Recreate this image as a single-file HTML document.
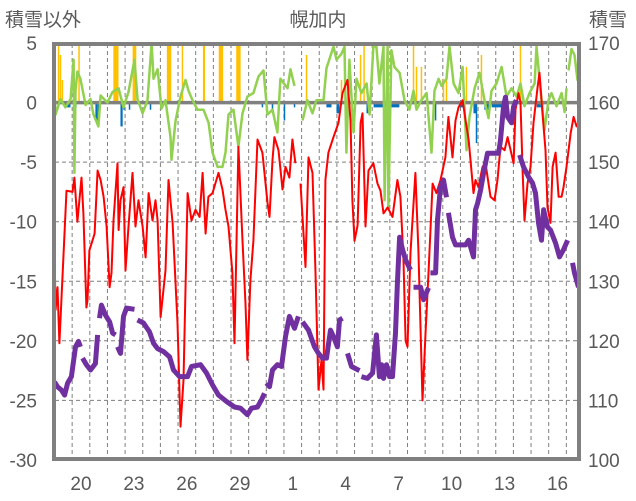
<!DOCTYPE html>
<html><head><meta charset="utf-8"><style>
body{margin:0;background:#fff;}
svg{display:block;font-family:"Liberation Sans","Noto Sans CJK JP",sans-serif;}
</style></head><body>
<svg id="chart" width="636" height="501" viewBox="0 0 636 501">
<defs><clipPath id="plotclip"><rect x="55" y="44" width="524" height="415"/></clipPath></defs>
</svg>
<script>
// ---- data (day offset from the 19th 00:00) ----
const dayLabels = ["20","23","26","29","1","4","7","10","13","16"];
const dayLabelIdx = [1,4,7,10,13,16,19,22,25,28];
const leftTicks = [5,0,-5,-10,-15,-20,-25,-30];
const rightTicks = [170,160,150,140,130,120,110,100];

const redDay = [0,0.06,0.17,0.28,0.68,1.02,1.13,1.30,1.53,1.64,1.81,1.87,1.98,2.15,2.27,2.44,2.61,2.78,2.95,3.12,3.23,3.34,3.57,3.63,3.74,3.91,4.02,4.19,4.42,4.59,4.76,4.99,5.16,5.33,5.55,5.72,5.84,6.01,6.29,6.46,6.69,6.97,7.14,7.31,7.54,7.76,7.99,8.22,8.39,8.56,8.72,8.95,9.29,9.52,9.69,9.86,10.08,10.20,10.42,10.65,10.82,10.93,11.10,11.27,11.50,11.78,12.07,12.18,12.35,12.46,12.69,12.92,13.09,13.31,13.48,13.65,13.80,13.94,14.22,14.39,14.62,14.79,14.96,15.13,15.24,15.35,15.52,15.81,16.09,16.32,16.60,16.77,16.88,17.00,17.17,17.34,17.45,17.62,17.79,18.07,18.30,18.47,18.64,18.87,19.15,19.43,19.60,19.77,19.89,20.00,20.17,20.45,20.62,20.85,21.02,21.19,21.42,21.64,21.87,22.15,22.32,22.55,22.72,22.89,23.12,23.29,23.46,23.74,23.85,24.02,24.25,24.42,24.70,24.93,25.10,25.27,25.50,25.67,25.84,26.01,26.12,26.29,26.40,26.52,26.63,26.80,26.97,27.14,27.37,27.48,27.65,27.82,27.93,28.10,28.22,28.39,28.56,28.73,28.84,29.01,29.24,29.41,29.58,29.69];
const redVal = [-12.6,-17.4,-15.5,-20.2,-7.4,-7.5,-6.3,-10.0,-6.3,-9.3,-17.2,-16.6,-12.4,-11.6,-11.0,-5.7,-6.5,-7.9,-10.4,-15.5,-14.3,-9.9,-5.1,-10.7,-8.2,-7.1,-14.1,-10.4,-5.9,-10.4,-8.2,-10.4,-13.0,-7.6,-9.9,-8.2,-9.9,-18.0,-14.1,-6.5,-10.1,-18.5,-27.2,-23.3,-7.6,-9.9,-9.0,-9.6,-5.9,-11.0,-7.9,-7.6,-5.9,-7.3,-9.0,-10.4,-14.3,-20.2,-3.7,-11.6,-16.9,-21.6,-14.9,-11.6,-3.1,-4.2,-8.4,-9.6,-4.8,-2.9,-4.0,-7.3,-5.4,-6.3,-3.1,-5.1,null,-6.8,-13.8,-4.6,-5.9,-14.3,-24.1,-21.6,-24.1,-6.5,-4.2,-2.9,-1.7,0.8,1.9,-1.5,-8.2,-11.6,-10.3,-1.7,-0.9,-10.4,-5.7,-5.1,-6.8,-7.4,-9.3,-8.8,-9.6,-6.5,-7.9,-13.0,-20.0,-20.5,-12.6,-5.9,-12.4,-25.0,-19.4,-14.3,-6.8,-7.6,-6.5,-4.6,-1.2,-4.6,-1.5,-0.4,0.2,-1.5,-3.1,-7.6,-6.5,-7.1,-5.4,-5.1,-7.9,-8.2,-6.5,-3.7,-4.0,-2.9,-4.0,-5.1,-0.6,0.8,0.0,-5.7,-9.9,-6.8,-5.4,-1.7,1.3,2.5,-0.9,-4.0,-8.8,-10.1,-5.4,-4.2,-7.9,-7.9,-7.1,-5.4,-2.6,-1.2,-2.0,-1.7];

const snowDay = [0.0,0.17,0.40,0.57,0.74,0.96,1.19,1.36,1.47,1.53,1.59,1.81,2.04,2.32,2.44,2.50,2.55,2.66,2.89,3.12,3.29,3.46,3.52,3.57,3.74,3.91,4.08,4.53,4.62,4.70,5.04,5.38,5.61,5.84,6.18,6.52,6.74,7.08,7.54,7.76,8.27,8.61,8.95,9.29,9.75,10.20,10.54,10.93,11.16,11.50,11.73,11.90,11.95,12.01,12.18,12.35,12.63,12.86,13.09,13.31,13.60,13.82,13.93,14.05,14.39,14.73,14.96,15.18,15.41,15.64,15.81,16.03,16.15,16.32,16.46,16.60,16.83,17.28,17.33,17.39,17.73,18.02,18.24,18.41,18.53,18.64,18.81,18.98,19.15,19.32,19.43,19.55,19.72,19.89,20.17,20.25,20.34,20.74,20.91,21.19,21.25,21.30,21.59,21.70,21.87,22.04,22.21,22.27,22.32,22.55,22.72,23.29,23.46,23.74,23.85,23.97,24.14,24.31,24.53,25.16,25.27,25.44,25.55,25.67,25.89,26.01,26.18,26.27,26.35,26.57,26.86,27.08,27.25,27.42,27.59,27.71,27.93,28.10,28.39,28.61,28.84,29.07,29.20,29.35,29.46,29.69];
const snowVal = [113.1,112.3,111.7,110.9,112.9,114.0,119.0,119.9,119.0,null,117.1,116.0,115.1,116.2,121.0,null,123.8,126.0,124.3,123.2,121.3,121.0,null,119.0,117.9,124.1,125.5,125.3,null,123.5,123.0,121.5,119.6,118.7,118.2,117.3,115.1,114.0,114.0,115.7,116.0,114.6,112.6,110.9,109.8,108.9,108.7,107.6,108.7,108.9,110.1,111.2,null,112.9,112.3,115.1,116.0,115.7,120.7,124.1,122.1,124.1,null,123.2,121.8,119.0,117.9,117.1,117.1,121.8,120.7,119.0,123.5,123.8,null,117.9,115.7,115.0,null,114.0,113.7,114.6,121.0,114.0,116.0,113.7,116.0,114.0,114.0,121.3,129.7,137.4,135.3,133.6,131.9,null,129.0,129.0,126.9,128.9,null,131.4,131.4,140.3,145.8,147.0,144.1,null,141.5,137.4,136.1,136.1,136.9,134.1,142.0,143.1,145.3,148.2,151.5,151.5,153.7,159.3,160.9,157.6,156.6,159.3,160.4,null,151.2,149.2,147.5,146.5,144.8,139.8,136.9,142.0,139.1,138.6,136.4,134.1,135.3,136.9,null,133.1,131.4,129.0];

const greenDay = [0,0.06,0.34,0.62,0.91,1.08,1.13,1.19,1.30,1.47,1.76,2.04,2.21,2.49,2.61,3.00,3.29,3.63,3.91,4.19,4.53,4.70,4.99,5.27,5.50,5.61,5.84,6.06,6.29,6.57,6.63,6.86,7.14,7.42,7.59,7.82,8.10,8.44,8.73,8.95,9.24,9.52,9.69,9.86,10.14,10.42,10.65,10.93,11.27,11.56,11.84,12.07,12.35,12.63,12.80,13.20,13.37,13.60,13.80,14.05,14.33,14.62,14.84,15.24,15.41,15.81,15.98,16.26,16.43,16.54,16.71,16.94,17.11,17.39,17.68,17.85,18.07,18.24,18.41,18.64,18.70,18.87,18.92,19.09,19.26,19.55,19.83,20.11,20.34,20.51,20.79,21.08,21.36,21.53,21.76,21.93,22.21,22.38,22.61,22.89,23.12,23.34,23.51,23.80,24.08,24.36,24.59,24.76,25.04,25.33,25.61,25.89,26.18,26.40,26.63,26.91,27.20,27.31,27.54,27.76,27.99,28.16,28.44,28.73,28.90,29.01,29.07,29.12,29.29,29.46,29.63,29.75];
const greenVal = [0.8,-1.0,0.3,-0.4,0.3,3.6,-5.9,1.0,2.6,2.0,-0.2,0.3,-1.0,-2.0,0.6,0.0,0.9,1.2,-0.4,0.9,3.6,0.3,-0.9,0.2,5.0,2.0,2.8,-0.5,0.2,-2.9,-4.8,-1.5,0.5,1.9,1.0,0.2,-0.6,-0.6,-1.7,-4.2,-5.4,-5.4,-4.2,-1.0,-0.6,-3.7,-0.9,0.5,0.8,2.2,2.7,-1.0,-0.6,-2.5,2.0,1.2,2.8,1.4,null,-1.5,0.2,-0.9,0.2,0.2,2.9,4.7,3.6,4.1,4.7,-4.2,3.6,-2.5,2.0,0.8,1.6,-1.0,4.7,4.7,1.6,4.7,-8.2,4.7,-8.8,4.4,3.0,2.5,0.2,-0.6,1.0,-0.6,0.2,0.8,-4.2,1.0,2.0,1.4,2.0,4.7,1.6,0.8,3.0,-4.0,-1.2,1.2,2.5,0.2,-1.3,1.0,1.6,3.0,0.5,1.2,0.5,1.6,-0.3,0.8,1.6,4.7,1.0,-2.3,0.2,0.8,-0.3,0.8,-0.8,1.2,null,2.7,4.5,4.0,1.9,3.6];

const snowfallDay = [0.23,0.34,0.45,1.39,3.48,4.53,6.49,7.25,8.47,9.43,10.42,14.28,16.26,17.34,17.54,20.34,20.51,20.79,22.04,22.21,23.34,24.19,26.40];
const snowfallVal = [8,4.0,1.9,8,8,8,8,8,8,8,8,4.0,1.9,4.0,8,8,3.0,3.0,2.0,2.5,3.0,4.0,8];
const snowfallHours = [1,1,1,2,7,5,6,1,3,6,6,1,1,1,2,1,1,1,1,1,1,1,1];

const meltDay = [0.74,1.19,2.38,2.49,3.80,3.94,4.25,5.44,11.78,12.35,13.03,13.60,15.55,16.06,17.76,18.81,21.59,23.03,23.82,23.91,24.50,25.10,27.51];
const meltVal = [-0.4,-0.4,-1.5,-2.0,-2.0,-0.6,-0.6,-0.6,-0.4,-0.6,-1.5,-0.4,-0.4,-0.9,-0.9,-0.4,-1.5,-0.4,-0.9,-3.4,-0.6,-0.4,-0.4];
const meltHours = [8,3,3,1,3,1,1,1,1,1,2,1,7,4,4,35,1,6,4,1,7,16,9];

// ---- scales ----
const X0 = 54.5, DAYPX = 17.65;
function xs(t){ return X0 + t*DAYPX; }
function yl(v){ return 102.6 - v*11.91; }
function yr(p){ return 43 + (170-p)*5.957; }

const NS = "http://www.w3.org/2000/svg";
const svg = document.getElementById("chart");
function mk(tag, attrs, parent){
  const e = document.createElementNS(NS, tag);
  for (const k in attrs) e.setAttribute(k, attrs[k]);
  (parent||svg).appendChild(e);
  return e;
}
function txt(str, attrs){
  const e = mk("text", attrs);
  e.textContent = str;
  return e;
}

let t1 = txt("積雪以外", {x:5, y:26, "font-size":19, fill:"#595959"});


let t2 = txt("幌加内", {x:318, y:26, "font-size":19, fill:"#595959", "text-anchor":"middle"});


let t3 = txt("積雪", {x:589, y:26, "font-size":19, fill:"#595959"});



const grid = mk("g", {stroke:"#7f7f7f", "stroke-width":1, "stroke-dasharray":"4,3"});


leftTicks.forEach(v => {
  if (v===5 || v===-30 || v===0) return;
  const l = mk("line", {x1:55, x2:579, y1:yl(v), y2:yl(v)}, grid);
  
  
});
for (let k=1; k<30; k++){
  const x = xs(k);
  if (x > 578) break;
  const l = mk("line", {x1:x, x2:x, y1:44, y2:459}, grid);
  
  
}

leftTicks.forEach(v => {
  const e = txt(String(v), {x:37, y:yl(v)+7, "font-size":19, fill:"#595959", "text-anchor":"end"});
  
  
});
rightTicks.forEach(p => {
  const e = txt(String(p), {x:588, y:yr(p)+7, "font-size":19, fill:"#595959"});
  
  
});
dayLabels.forEach((s,i) => {
  const e = txt(s, {x:xs(dayLabelIdx[i]+0.5), y:490, "font-size":19, fill:"#595959", "text-anchor":"middle"});
  
  
});

const plot = mk("g", {"clip-path":"url(#plotclip)"});



snowfallDay.forEach((d,i) => {
  const w = Math.max(1.5, snowfallHours[i]/24*DAYPX);
  const top = yl(snowfallVal[i]);
  const b = mk("rect", {x:xs(d)-w/2, y:top, width:w, height:yl(0)-top, fill:"#FFC000"}, plot);
  
  
});
meltDay.forEach((d,i) => {
  const w = Math.max(1.5, meltHours[i]/24*DAYPX);
  const b = mk("rect", {x:xs(d)-w/2, y:yl(0), width:w, height:yl(meltVal[i])-yl(0), fill:"#0070C0"}, plot);
  
  
});

const zl = mk("line", {x1:55, x2:579, y1:yl(0), y2:yl(0), stroke:"#808080", "stroke-width":3.5}, plot);



function pathFrom(days, vals, yf){
  let d = "", pen = false;
  for (let i=0;i<days.length;i++){
    if (vals[i]===null){ pen=false; continue; }
    d += (pen?"L":"M") + xs(days[i]).toFixed(1) + "," + yf(vals[i]).toFixed(1);
    pen = true;
  }
  return d;
}
const g = mk("path", {d:pathFrom(greenDay, greenVal, yl), fill:"none", stroke:"#92D050", "stroke-width":2.5, "stroke-linejoin":"round"}, plot);


const r = mk("path", {d:pathFrom(redDay, redVal, yl), fill:"none", stroke:"#FF0000", "stroke-width":2, "stroke-linejoin":"round"}, plot);


const pu = mk("path", {d:pathFrom(snowDay, snowVal, yr), fill:"none", stroke:"#7030A0", "stroke-width":5, "stroke-linejoin":"round"}, plot);



const fr = mk("rect", {x:54, y:44, width:525, height:415, fill:"none", stroke:"#808080", "stroke-width":4});


</script>
</body></html>
